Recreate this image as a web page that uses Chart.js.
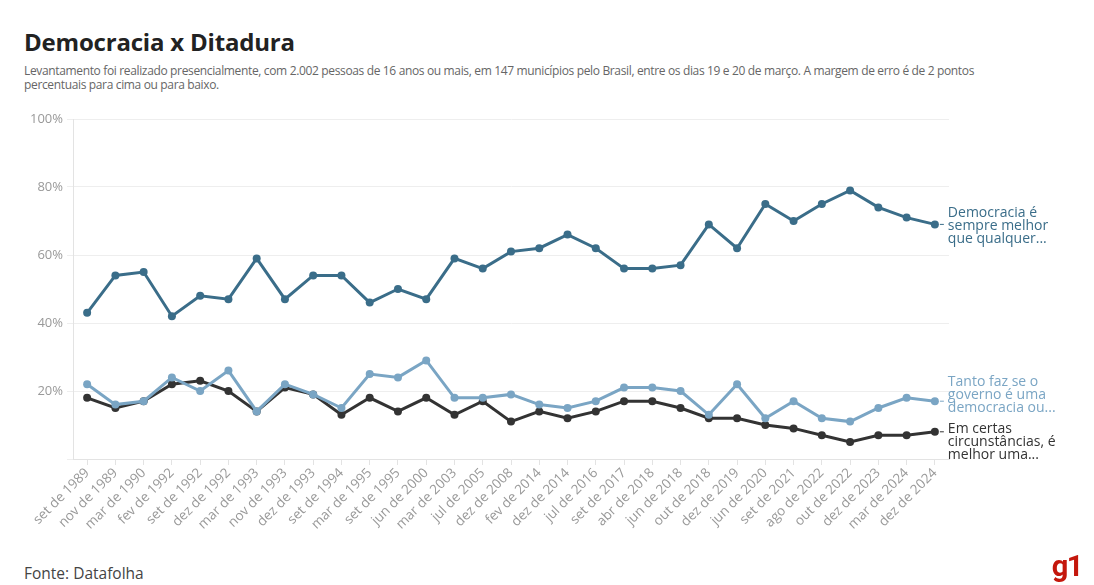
<!DOCTYPE html>
<html lang="pt-BR">
<head>
    <meta charset="UTF-8">
    <title>Democracia x Ditadura</title>
    <style>
        body {
            margin: 0;
            width: 1094px;
            height: 585px;
            background: #fff;
            font-family: "Open Sans", sans-serif;
            position: relative;
            overflow: hidden;
        }
        h1 {
            position: absolute;
            left: 24px;
            top: 25px;
            margin: 0;
            font-size: 24px;
            font-weight: 700;
            color: #222;
            letter-spacing: -0.2px;
        }
        .sub {
            position: absolute;
            left: 24px;
            top: 64px;
            width: 1065px;
            font-size: 12px;
            line-height: 14px;
            color: #666;
            letter-spacing: -0.35px;
        }
        .chart-box {
            position: absolute;
            left: 0;
            top: 100px;
            width: 1094px;
            height: 455px;
        }
        .fonte {
            position: absolute;
            left: 24px;
            top: 562px;
            font-size: 15.5px;
            color: #444;
        }
        .logo {
            position: absolute;
            right: 12px;
            top: 549px;
            font-family: Roboto, "DejaVu Sans", sans-serif;
            font-size: 29px;
            font-weight: 700;
            color: #c4170c;
            letter-spacing: -1.5px;
        }
    </style>
</head>
<body>
    <h1>Democracia x Ditadura</h1>
    <div class="sub">Levantamento foi realizado presencialmente, com 2.002 pessoas de 16 anos ou mais, em 147 municípios pelo Brasil, entre os dias 19 e 20 de março. A margem de erro é de 2 pontos<br>percentuais para cima ou para baixo.</div>
    <div class="chart-box"><canvas id="chart"></canvas></div>
    <div class="fonte">Fonte: Datafolha</div>
    <div class="logo">g1</div>

    <script src="https://cdn.jsdelivr.net/npm/chart.js"></script>
    <script>
        const labels = ['set de 1989', 'nov de 1989', 'mar de 1990', 'fev de 1992', 'set de 1992', 'dez de 1992',
            'mar de 1993', 'nov de 1993', 'dez de 1993', 'set de 1994', 'mar de 1995', 'set de 1995', 'jun de 2000',
            'mar de 2003', 'jul de 2005', 'dez de 2008', 'fev de 2014', 'dez de 2014', 'jul de 2016', 'set de 2017',
            'abr de 2018', 'jun de 2018', 'out de 2018', 'dez de 2019', 'jun de 2020', 'set de 2021', 'ago de 2022',
            'out de 2022', 'dez de 2023', 'mar de 2024', 'dez de 2024'];

        const democracia = [43, 54, 55, 42, 48, 47, 59, 47, 54, 54, 46, 50, 47, 59, 56, 61, 62, 66, 62, 56, 56, 57, 69, 62, 75, 70, 75, 79, 74, 71, 69];
        const tantoFaz = [22, 16, 17, 24, 20, 26, 14, 22, 19, 15, 25, 24, 29, 18, 18, 19, 16, 15, 17, 21, 21, 20, 13, 22, 12, 17, 12, 11, 15, 18, 17];
        const ditadura = [18, 15, 17, 22, 23, 20, 14, 21, 19, 13, 18, 14, 18, 13, 17, 11, 14, 12, 14, 17, 17, 15, 12, 12, 10, 9, 7, 5, 7, 7, 8];

        const seriesNames = [
            ['Democracia é', 'sempre melhor', 'que qualquer...'],
            ['Tanto faz se o', 'governo é uma', 'democracia ou...'],
            ['Em certas', 'circunstâncias, é', 'melhor uma...']
        ];
        const colors = ['#3a6d89', '#7aa5c4', '#333333'];
        const yTicks = [0, 20, 40, 60, 80, 100];

        // end labels on the right, pushed apart when they overlap
        const endLabels = {
            id: 'endLabels',
            afterDatasetsDraw(chart) {
                const ctx = chart.ctx;
                const lineH = 13;
                const minGap = 47;
                const items = chart.data.datasets.map((ds, i) => {
                    const pt = chart.getDatasetMeta(i).data[ds.data.length - 1];
                    return { i, px: pt.x, py: pt.y, y: pt.y };
                }).sort((a, b) => a.py - b.py);
                for (let k = 1; k < items.length; k++) {
                    const gap = items[k].y - items[k - 1].y;
                    if (gap < minGap) {
                        const d = (minGap - gap) / 2;
                        items[k - 1].y -= d;
                        items[k].y += d;
                    }
                }
                ctx.save();
                ctx.font = '14px "Open Sans", sans-serif';
                ctx.textBaseline = 'middle';
                items.forEach(it => {
                    const c = colors[it.i];
                    ctx.strokeStyle = c;
                    ctx.lineWidth = 1;
                    ctx.beginPath();
                    ctx.moveTo(it.px + 5, it.py);
                    ctx.lineTo(it.px + 9, it.py);
                    ctx.stroke();
                    ctx.fillStyle = c;
                    seriesNames[it.i].forEach((line, j) => {
                        ctx.fillText(line, it.px + 13, it.y + 2 + (j - 1) * lineH);
                    });
                });
                ctx.restore();
            }
        };

        const mkSet = (name, data, color) => ({
            label: name,
            data: data,
            borderColor: color,
            backgroundColor: color,
            pointBackgroundColor: color,
            pointBorderColor: color,
            pointBorderWidth: 0,
            borderWidth: 3,
            pointRadius: 4,
            pointHoverRadius: 4,
            tension: 0
        });

        new Chart(document.getElementById('chart'), {
            type: 'line',
            data: {
                labels: labels,
                datasets: [
                    mkSet('Democracia é sempre melhor que qualquer outra forma de governo', democracia, colors[0]),
                    mkSet('Tanto faz se o governo é uma democracia ou uma ditadura', tantoFaz, colors[1]),
                    mkSet('Em certas circunstâncias, é melhor uma ditadura', ditadura, colors[2])
                ]
            },
            options: {
                responsive: true,
                maintainAspectRatio: false,
                animation: false,
                layout: { padding: { left: 0, right: 145, top: 19, bottom: 0 } },
                plugins: {
                    legend: { display: false },
                    tooltip: { enabled: false }
                },
                scales: {
                    x: {
                        offset: true,
                        grid: { display: true, drawOnChartArea: false, drawTicks: true, tickLength: 6, color: '#e3e3e3' },
                        border: { color: '#e3e3e3' },
                        ticks: {
                            color: '#999999',
                            font: { family: 'Open Sans', size: 13.5 },
                            minRotation: 45,
                            maxRotation: 45,
                            autoSkip: false,
                            padding: 0
                        },
                        afterFit: s => { s.height = 96; }
                    },
                    y: {
                        min: 0,
                        max: 100,
                        afterBuildTicks: s => { s.ticks = yTicks.map(v => ({ value: v })); },
                        grid: { color: '#eeeeee', drawTicks: true, tickLength: 6 },
                        border: { color: '#e3e3e3' },
                        ticks: {
                            color: '#999999',
                            font: { family: 'Open Sans', size: 13 },
                            padding: 4,
                            callback: v => v === 0 ? '' : v + '%'
                        },
                        afterFit: s => { s.width = 73; }
                    }
                }
            },
            plugins: [endLabels]
        });
    </script>
</body>
</html>
